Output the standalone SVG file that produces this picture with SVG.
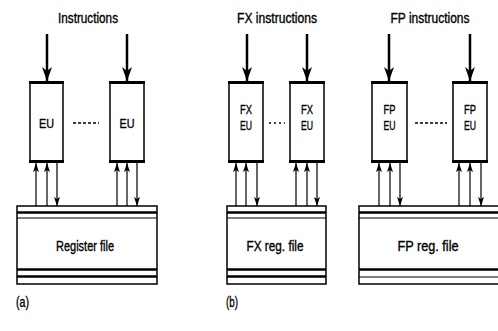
<svg xmlns="http://www.w3.org/2000/svg" width="498" height="331" viewBox="0 0 498 331">
<defs>
<style>
text{font-family:"Liberation Sans",Arial,sans-serif;fill:#000;stroke:#000;stroke-width:0.35;}
.t{font-size:14px;text-anchor:middle;}
.eu{font-size:13px;text-anchor:middle;}
.lab{font-size:14px;}
.box{fill:#fff;stroke:#000;stroke-width:1.5;}
.top{stroke:#000;stroke-width:3;}
.big{stroke:#000;stroke-width:2.5;fill:none;}
.sm{stroke:#000;stroke-width:1.2;fill:none;}
.thin{stroke:#000;stroke-width:1.2;}
.thick{stroke:#000;stroke-width:2.5;}
.dash{stroke:#000;stroke-width:1.5;stroke-dasharray:3 2;}
.dots{stroke:#000;stroke-width:1.5;stroke-dasharray:2 3;}
</style>
<marker id="bigHead" viewBox="0 0 14 10" refX="14" refY="5" markerWidth="14" markerHeight="10" markerUnits="userSpaceOnUse" orient="auto">
<path d="M0,0 L14,5 L0,10 L4,5 Z" fill="#000"/>
</marker>
<marker id="smHead" viewBox="0 0 9 6" refX="9" refY="3" markerWidth="9" markerHeight="6" markerUnits="userSpaceOnUse" orient="auto">
<path d="M0,0 L9,3 L0,6 L2,3 Z" fill="#000"/>
</marker>
</defs>
<rect width="498" height="331" fill="#fff"/>

<!-- Panel (a) -->
<g id="label-instructions-a"><text class="t" x="88" y="23" textLength="60" lengthAdjust="spacingAndGlyphs">Instructions</text></g>
<g id="eu-a1">
<rect class="box" x="30" y="82" width="33" height="80"/>
<line class="top" x1="29" y1="82.5" x2="64" y2="82.5"/>
<line class="top" x1="29" y1="161.5" x2="64" y2="161.5"/>
<text class="eu" x="46.5" y="128" textLength="15" lengthAdjust="spacingAndGlyphs">EU</text>
</g>
<g id="eu-a2">
<rect class="box" x="110" y="82" width="34" height="80"/>
<line class="top" x1="109" y1="82.5" x2="145" y2="82.5"/>
<line class="top" x1="109" y1="161.5" x2="145" y2="161.5"/>
<text class="eu" x="127" y="128" textLength="15" lengthAdjust="spacingAndGlyphs">EU</text>
</g>
<g id="regfile-a">
<rect class="box" x="17" y="206" width="140" height="78"/>
<line class="thick" x1="17" y1="212.5" x2="157" y2="212.5"/>
<line class="thin" x1="17" y1="218" x2="157" y2="218"/>
<line class="thick" x1="17" y1="269.5" x2="157" y2="269.5"/>
<line class="thick" x1="17" y1="276.5" x2="157" y2="276.5"/>
<text class="t" x="85" y="251" textLength="58" lengthAdjust="spacingAndGlyphs">Register file</text>
</g>
<g id="caption-a"><text class="lab" x="16" y="307" textLength="13" lengthAdjust="spacingAndGlyphs">(a)</text></g>

<!-- Panel (b) -->
<g id="label-instructions-b"><text class="t" x="277" y="23" textLength="80" lengthAdjust="spacingAndGlyphs">FX instructions</text></g>
<g id="eu-b1">
<rect class="box" x="229" y="82" width="34" height="80"/>
<line class="top" x1="228" y1="82.5" x2="264" y2="82.5"/>
<line class="top" x1="228" y1="161.5" x2="264" y2="161.5"/>
<text class="eu" x="246" y="114" textLength="12" lengthAdjust="spacingAndGlyphs">FX</text>
<text class="eu" x="246" y="130" textLength="12" lengthAdjust="spacingAndGlyphs">EU</text>
</g>
<g id="eu-b2">
<rect class="box" x="290" y="82" width="34" height="80"/>
<line class="top" x1="289" y1="82.5" x2="325" y2="82.5"/>
<line class="top" x1="289" y1="161.5" x2="325" y2="161.5"/>
<text class="eu" x="307" y="114" textLength="12" lengthAdjust="spacingAndGlyphs">FX</text>
<text class="eu" x="307" y="130" textLength="12" lengthAdjust="spacingAndGlyphs">EU</text>
</g>
<g id="regfile-b">
<rect class="box" x="227" y="206" width="99" height="78"/>
<line class="thick" x1="227" y1="212.5" x2="326" y2="212.5"/>
<line class="thin" x1="227" y1="218" x2="326" y2="218"/>
<line class="thick" x1="227" y1="269.5" x2="326" y2="269.5"/>
<line class="thick" x1="227" y1="276.5" x2="326" y2="276.5"/>
<text class="t" x="275" y="251" textLength="57" lengthAdjust="spacingAndGlyphs">FX reg. file</text>
</g>
<g id="caption-b"><text class="lab" x="226" y="307" textLength="12" lengthAdjust="spacingAndGlyphs">(b)</text></g>

<!-- Panel (c) -->
<g id="label-instructions-c"><text class="t" x="430" y="23" textLength="79" lengthAdjust="spacingAndGlyphs">FP instructions</text></g>
<g id="eu-c1">
<rect class="box" x="372" y="82" width="35" height="80"/>
<line class="top" x1="371" y1="82.5" x2="408" y2="82.5"/>
<line class="top" x1="371" y1="161.5" x2="408" y2="161.5"/>
<text class="eu" x="389.5" y="114" textLength="12" lengthAdjust="spacingAndGlyphs">FP</text>
<text class="eu" x="389.5" y="130" textLength="12" lengthAdjust="spacingAndGlyphs">EU</text>
</g>
<g id="eu-c2">
<rect class="box" x="453" y="82" width="34" height="80"/>
<line class="top" x1="452" y1="82.5" x2="488" y2="82.5"/>
<line class="top" x1="452" y1="161.5" x2="488" y2="161.5"/>
<text class="eu" x="470" y="114" textLength="12" lengthAdjust="spacingAndGlyphs">FP</text>
<text class="eu" x="470" y="130" textLength="12" lengthAdjust="spacingAndGlyphs">EU</text>
</g>
<g id="regfile-c">
<rect class="box" x="359" y="206" width="150" height="78"/>
<line class="thick" x1="359" y1="212.5" x2="509" y2="212.5"/>
<line class="thin" x1="359" y1="218" x2="509" y2="218"/>
<line class="thick" x1="359" y1="269.5" x2="509" y2="269.5"/>
<line class="thin" x1="359" y1="277" x2="509" y2="277"/>
<text class="t" x="428" y="251" textLength="61" lengthAdjust="spacingAndGlyphs">FP reg. file</text>
</g>

<!-- Connectors -->
<g id="connectors">
<line class="big" x1="47" y1="34" x2="47" y2="81" marker-end="url(#bigHead)"/>
<line class="big" x1="127" y1="34" x2="127" y2="81" marker-end="url(#bigHead)"/>
<line class="big" x1="247" y1="34" x2="247" y2="81" marker-end="url(#bigHead)"/>
<line class="big" x1="307" y1="34" x2="307" y2="81" marker-end="url(#bigHead)"/>
<line class="big" x1="389" y1="34" x2="389" y2="81" marker-end="url(#bigHead)"/>
<line class="big" x1="470" y1="34" x2="470" y2="81" marker-end="url(#bigHead)"/>

<line class="dash" x1="73" y1="123" x2="99" y2="123"/>
<line class="dots" x1="269" y1="123" x2="285" y2="123"/>
<line class="dash" x1="415" y1="123" x2="447" y2="123"/>

<line class="sm" x1="36" y1="206" x2="36" y2="163" marker-end="url(#smHead)"/>
<line class="sm" x1="47" y1="206" x2="47" y2="163" marker-end="url(#smHead)"/>
<line class="sm" x1="57" y1="163" x2="57" y2="206" marker-end="url(#smHead)"/>
<line class="sm" x1="117" y1="206" x2="117" y2="163" marker-end="url(#smHead)"/>
<line class="sm" x1="127" y1="206" x2="127" y2="163" marker-end="url(#smHead)"/>
<line class="sm" x1="137" y1="163" x2="137" y2="206" marker-end="url(#smHead)"/>

<line class="sm" x1="236" y1="206" x2="236" y2="163" marker-end="url(#smHead)"/>
<line class="sm" x1="246" y1="206" x2="246" y2="163" marker-end="url(#smHead)"/>
<line class="sm" x1="257" y1="163" x2="257" y2="206" marker-end="url(#smHead)"/>
<line class="sm" x1="296" y1="206" x2="296" y2="163" marker-end="url(#smHead)"/>
<line class="sm" x1="307" y1="206" x2="307" y2="163" marker-end="url(#smHead)"/>
<line class="sm" x1="317" y1="163" x2="317" y2="206" marker-end="url(#smHead)"/>

<line class="sm" x1="379" y1="206" x2="379" y2="163" marker-end="url(#smHead)"/>
<line class="sm" x1="390" y1="206" x2="390" y2="163" marker-end="url(#smHead)"/>
<line class="sm" x1="400" y1="163" x2="400" y2="206" marker-end="url(#smHead)"/>
<line class="sm" x1="459" y1="206" x2="459" y2="163" marker-end="url(#smHead)"/>
<line class="sm" x1="470" y1="206" x2="470" y2="163" marker-end="url(#smHead)"/>
<line class="sm" x1="481" y1="163" x2="481" y2="206" marker-end="url(#smHead)"/>
</g>
</svg>
